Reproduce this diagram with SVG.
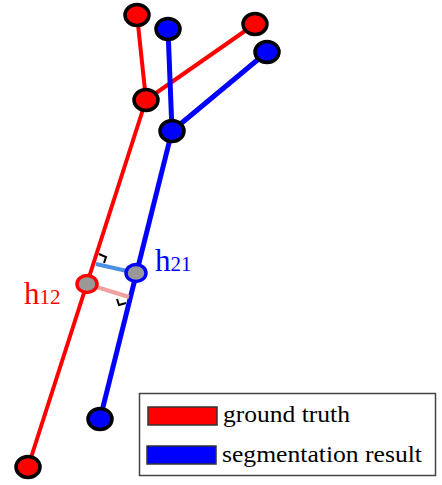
<svg xmlns="http://www.w3.org/2000/svg" width="442" height="485" viewBox="0 0 442 485">
<style>
.red{stroke:#ff0000;stroke-width:4;fill:none}
.blue{stroke:#0000ff;stroke-width:5;fill:none}
.nr{fill:#ff0000;stroke:#000;stroke-width:3.5}
.nb{fill:#0000ff;stroke:#000;stroke-width:3.5}
.ng{fill:#999;stroke-width:3.5}
.ra{stroke:#000;stroke-width:2;fill:none}
.lt{font-family:"Liberation Serif","DejaVu Serif",serif;font-size:23px;fill:#000}
.lbl{font-family:"Liberation Serif","DejaVu Serif",serif}
</style>
<rect width="442" height="485" fill="#fff"/>
<g id="connectors">
<line class="red" x1="137" y1="15" x2="146" y2="100"/>
<line class="red" x1="255" y1="24" x2="146" y2="100"/>
<line class="red" x1="146" y1="100" x2="28" y2="467"/>
<line class="blue" x1="168" y1="29" x2="172" y2="131"/>
<line class="blue" x1="267" y1="52" x2="172" y2="131"/>
<line class="blue" x1="172" y1="131" x2="100" y2="419"/>
<line x1="96" y1="264" x2="136" y2="273" stroke="#4a90e2" stroke-width="4"/>
<line x1="87" y1="284" x2="129" y2="297" stroke="#f0a0a0" stroke-width="4"/>
<polyline class="ra" points="99,254 106,257 104,263"/>
<polyline class="ra" points="117,299 119,305 126,303"/>
</g>
<g id="gt-top1"><ellipse class="nr" cx="137" cy="15" rx="12" ry="10.5"/></g>
<g id="gt-top2"><ellipse class="nr" cx="255" cy="24" rx="12" ry="10.5"/></g>
<g id="gt-junction"><ellipse class="nr" cx="146" cy="100" rx="12" ry="10.5"/></g>
<g id="gt-bottom"><ellipse class="nr" cx="28" cy="467" rx="12" ry="10.5"/></g>
<g id="seg-top1"><ellipse class="nb" cx="168" cy="29" rx="12" ry="10.5"/></g>
<g id="seg-top2"><ellipse class="nb" cx="267" cy="52" rx="12" ry="10.5"/></g>
<g id="seg-junction"><ellipse class="nb" cx="172" cy="131" rx="12" ry="10.5"/></g>
<g id="seg-bottom"><ellipse class="nb" cx="100" cy="419" rx="12" ry="10.5"/></g>
<g id="gt-point"><ellipse class="ng" stroke="#ff0000" cx="87" cy="284" rx="10" ry="8.5"/></g>
<g id="seg-point"><ellipse class="ng" stroke="#0000ff" cx="136" cy="273" rx="10" ry="8.5"/></g>
<g id="label-h12"><text class="lbl" x="24" y="304" fill="#ff0000"><tspan font-size="31">h</tspan><tspan font-size="21">12</tspan></text></g>
<g id="label-h21"><text class="lbl" x="155" y="271" fill="#0000ff"><tspan font-size="31">h</tspan><tspan font-size="21">21</tspan></text></g>
<g id="legend">
<rect x="139.5" y="393.5" width="296" height="82" fill="#fff" stroke="#444" stroke-width="1.5"/>
<rect x="148" y="407" width="69" height="18" fill="#ff0000" stroke="#333" stroke-width="1.5"/>
<rect x="147" y="446" width="69" height="18" fill="#0000ff" stroke="#333" stroke-width="1.5"/>
<text class="lt" x="223" y="422" textLength="127" lengthAdjust="spacingAndGlyphs">ground truth</text>
<text class="lt" x="222" y="462" textLength="200" lengthAdjust="spacingAndGlyphs">segmentation result</text>
</g>
</svg>
